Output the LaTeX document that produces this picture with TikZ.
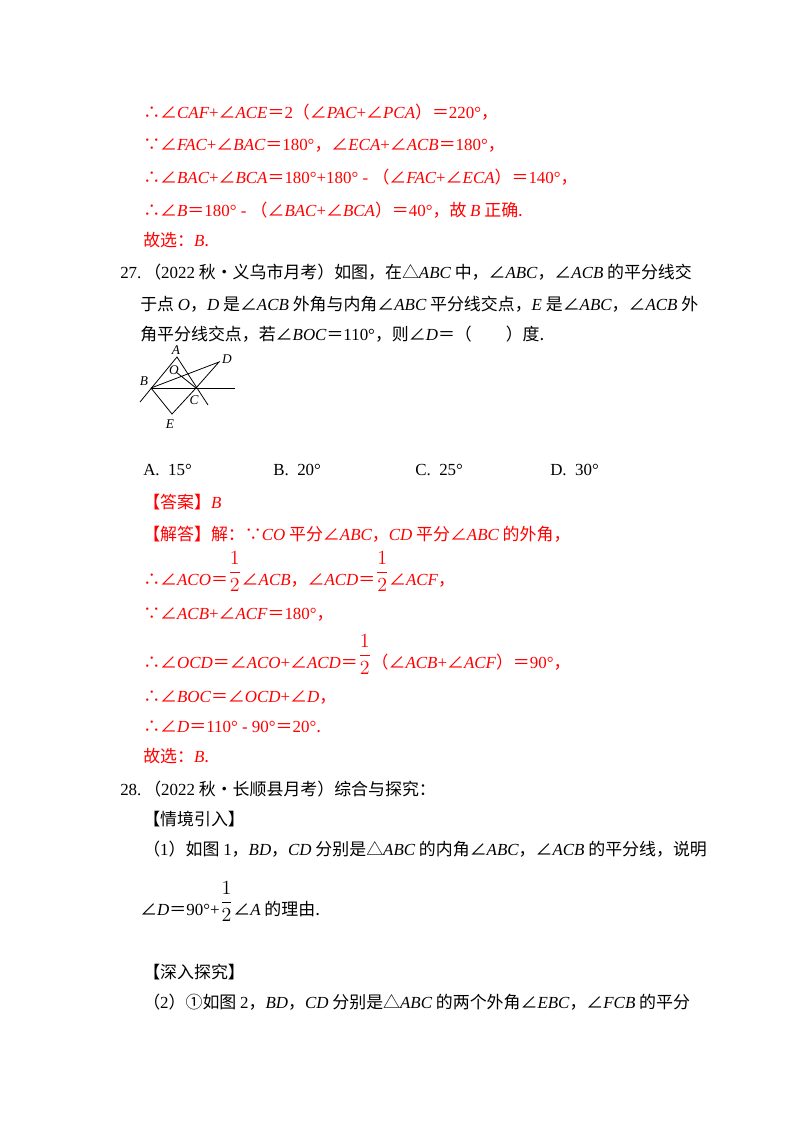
\documentclass[tikz,border=0pt]{standalone}
\usepackage{fontspec}
\usepackage{graphicx}
\setmainfont{Noto Sans CJK SC}
\newfontfamily\lat{Liberation Serif}
\newcommand{\I}[1]{{\lat\itshape #1}}
\newcommand{\R}[1]{{\lat #1}}
\newcommand{\hf}{\raisebox{0.8ex}{\scalebox{1.25}{$\displaystyle\frac{1}{2}$}}}
\definecolor{rd}{RGB}{255,0,0}
\begin{document}
\begin{tikzpicture}[x=0.75pt,y=-0.75pt,
  ln/.style={anchor=base west,inner sep=0pt,font=\fontsize{12.7}{14}\selectfont},
  red/.style={ln,text=rd},
  fig/.style={line width=0.6pt},
  lab/.style={inner sep=0pt,font=\fontsize{10}{12}\lat\itshape}]
\useasboundingbox (0,0) rectangle (800,1132);
\fill[white] (0,0) rectangle (800,1132);
\node[red] (r1) at (143,118) {∴∠\I{CAF}\R{+}∠\I{ACE}＝\R{2}（∠\I{PAC}\R{+}∠\I{PCA}）＝\R{220°}，};
\node[red] (r2) at (143,150) {∵∠\I{FAC}\R{+}∠\I{BAC}＝\R{180°}，∠\I{ECA}\R{+}∠\I{ACB}＝\R{180°}，};
\node[red] (r3) at (143,183) {∴∠\I{BAC}\R{+}∠\I{BCA}＝\R{180°+180° - }（∠\I{FAC}\R{+}∠\I{ECA}）＝\R{140°}，};
\node[red] (r4) at (143,216) {∴∠\I{B}＝\R{180° - }（∠\I{BAC}\R{+}∠\I{BCA}）＝\R{40°}，故 \I{B} 正确.};
\node[red] (r5) at (143,246) {故选：\I{B}.};
\node[ln] (q1) at (120,278) {\R{27.}\,（\R{2022} 秋•义乌市月考）如图，在△\I{ABC} 中，∠\I{ABC}，∠\I{ACB} 的平分线交};
\node[ln] (q2) at (140,310) {于点 \I{O}，\I{D} 是∠\I{ACB} 外角与内角∠\I{ABC} 平分线交点，\I{E} 是∠\I{ABC}，∠\I{ACB} 外};
\node[ln] (q3) at (140,340) {角平分线交点，若∠\I{BOC}＝\R{110°}，则∠\I{D}＝（\quad\quad）度.};
% figure
\coordinate (A) at (177,357);
\coordinate (B) at (151,388);
\coordinate (C) at (196,388);
\coordinate (D) at (219,362);
\coordinate (E) at (172,414);
\coordinate (O) at (176,372);
\coordinate (L1) at (140,402);
\coordinate (L2) at (208,405);
\coordinate (L3) at (235,388);
\draw[fig] (L1) -- (A) -- (L2);
\draw[fig] (B) -- (L3);
\draw[fig] (B) -- (D) -- (C) -- (O);
\draw[fig] (B) -- (E) -- (C);
\node[lab] (la) at (176,350) {A};
\node[lab] (ld) at (227,359) {D};
\node[lab] (lo) at (174,370) {O};
\node[lab] (lb) at (144,381) {B};
\node[lab] (lc) at (194,400) {C};
\node[lab] (le) at (170,424) {E};
\node[ln] (oa) at (143,475) {\R{A.\enspace15°}};
\node[ln] (ob) at (273,475) {\R{B.\enspace20°}};
\node[ln] (oc) at (415,475) {\R{C.\enspace25°}};
\node[ln] (od) at (550,475) {\R{D.\enspace30°}};
\node[red] (s1) at (143,508) {【答案】\I{B}};
\node[red] (s2) at (143,540) {【解答】解：∵\I{CO} 平分∠\I{ABC}，\I{CD} 平分∠\I{ABC} 的外角，};
\node[red] (s3) at (143,585) {∴∠\I{ACO}＝\hf∠\I{ACB}，∠\I{ACD}＝\hf∠\I{ACF}，};
\node[red] (s4) at (143,619) {∵∠\I{ACB}\R{+}∠\I{ACF}＝\R{180°}，};
\node[red] (s5) at (143,668) {∴∠\I{OCD}＝∠\I{ACO}\R{+}∠\I{ACD}＝\hf（∠\I{ACB}\R{+}∠\I{ACF}）＝\R{90°}，};
\node[red] (s6) at (143,702) {∴∠\I{BOC}＝∠\I{OCD}\R{+}∠\I{D}，};
\node[red] (s7) at (143,732) {∴∠\I{D}＝\R{110° - 90°}＝\R{20°}.};
\node[red] (s8) at (143,762) {故选：\I{B}.};
\node[ln] (t1) at (120,795) {\R{28.}\,（\R{2022} 秋•长顺县月考）综合与探究：};
\node[ln] (t2) at (143,825) {【情境引入】};
\node[ln] (t3) at (143,855) {（\R{1}）如图 \R{1}，\I{BD}，\I{CD} 分别是△\I{ABC} 的内角∠\I{ABC}，∠\I{ACB} 的平分线，说明};
\node[ln] (t4) at (140,915) {∠\I{D}＝\R{90°+}\hf∠\I{A} 的理由.};
\node[ln] (t5) at (143,978) {【深入探究】};
\node[ln] (t6) at (143,1008) {（\R{2}）①如图 \R{2}，\I{BD}，\I{CD} 分别是△\I{ABC} 的两个外角∠\I{EBC}，∠\I{FCB} 的平分};
\end{tikzpicture}
\end{document}
